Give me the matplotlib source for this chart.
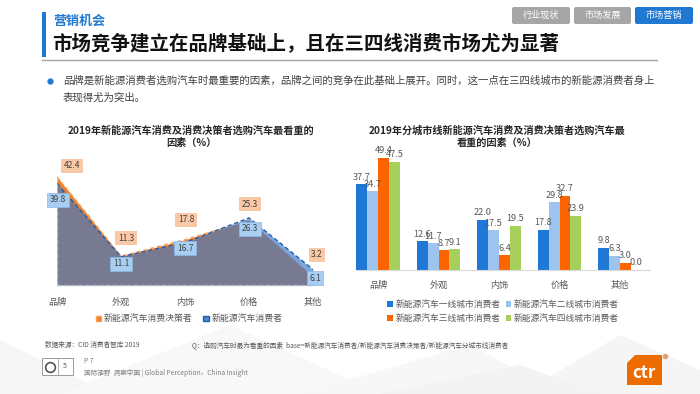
import matplotlib
matplotlib.use("Agg")
import matplotlib.pyplot as plt
from matplotlib.patches import Rectangle, FancyBboxPatch, Polygon, Patch
import numpy as np

plt.rcParams['font.family'] = ['Noto Sans CJK SC', 'DejaVu Sans']

# ---- data ----
factors = ["品牌", "外观", "内饰", "价格", "其他"]

decision_makers = [42.4, 11.3, 17.8, 25.3, 3.2]
consumers = [39.8, 11.1, 16.7, 26.3, 6.1]

tier1 = [37.7, 12.6, 22.0, 17.8, 9.8]
tier2 = [34.7, 11.7, 17.5, 29.8, 6.3]
tier3 = [49.4, 8.7, 6.4, 32.7, 3.0]
tier4 = [47.5, 9.1, 19.5, 23.9, 0.0]

tier_names = ["新能源汽车一线城市消费者", "新能源汽车二线城市消费者",
              "新能源汽车三线城市消费者", "新能源汽车四线城市消费者"]
tier_colors = ["#1f77d6", "#9dc3ef", "#fb6400", "#a6cf5b"]

W, H = 700, 394
fig = plt.figure(figsize=(7, 3.94), dpi=100)
fig.patch.set_facecolor("white")

# background layer in pixel coords (header, footer, decoration)
bg = fig.add_axes([0, 0, 1, 1])
bg.set_xlim(0, W)
bg.set_ylim(H, 0)
bg.axis("off")

# faint polygons at the bottom
for pts, c in [
    ([(0, 394), (0, 340), (110, 394)], "#f6f6f6"),
    ([(60, 394), (230, 325), (380, 394)], "#f8f8f8"),
    ([(300, 394), (470, 345), (560, 394)], "#f7f7f7"),
    ([(520, 394), (620, 335), (700, 370), (700, 394)], "#f5f5f5"),
    ([(380, 394), (520, 365), (600, 394)], "#f3f3f3"),
]:
    bg.add_patch(Polygon(pts, closed=True, fc=c, ec="none", zorder=0))

# header
bg.add_patch(Rectangle((42, 12), 4, 45, fc="#1f78d1", ec="none"))
bg.text(53, 21, "营销机会", fontsize=9.4, fontweight="bold", color="#1f78d1", va="center")
bg.text(52, 43, "市场竞争建立在品牌基础上，且在三四线消费市场尤为显著",
        fontsize=14, fontweight="bold", color="#111111", va="center")
bg.plot([42, 657], [59.5, 59.5], color="#a6a6a6", lw=1)

for (x0, x1), label, col in [((512, 570), "行业现状", "#a6a6a6"),
                             ((574, 631), "市场发展", "#a6a6a6"),
                             ((635, 693), "市场营销", "#1f78d1")]:
    bg.add_patch(FancyBboxPatch((x0, 7), x1 - x0, 17, boxstyle="round,pad=0,rounding_size=2",
                                fc=col, ec="none"))
    bg.text((x0 + x1) / 2, 15.5, label, fontsize=6.6, color="white", ha="center", va="center")

bg.plot([50], [81], "o", color="#1f78d1", ms=3.5)
bg.text(63, 81, "品牌是新能源消费者选购汽车时最重要的因素，品牌之间的竞争在此基础上展开。同时，这一点在三四线城市的新能源消费者身上",
        fontsize=7.5, color="#404040", va="center")
bg.text(63, 98, "表现得尤为突出。", fontsize=7.5, color="#404040", va="center")

# chart titles
bg.text(191, 137, "2019年新能源汽车消费及消费决策者选购汽车最看重的\n因素（%）",
        fontsize=7.3, fontweight="bold", color="#262626", ha="center", va="center",
        linespacing=1.25)
bg.text(497, 137, "2019年分城市线新能源汽车消费及消费决策者选购汽车最\n看重的因素（%）",
        fontsize=7.3, fontweight="bold", color="#262626", ha="center", va="center",
        linespacing=1.25)

# footer
bg.text(45, 345, "数据来源：CID 消费者智库 2019", fontsize=4.8, color="#595959", va="center")
bg.text(192, 345, "Q：选购汽车时最为看重的因素  base=新能源汽车消费者/新能源汽车消费决策者/新能源汽车分城市线消费者",
        fontsize=4.8, color="#595959", va="center")
bg.add_patch(Rectangle((42, 358), 31, 17, fc="white", ec="#8c8c8c", lw=0.6))
bg.plot([57.5, 57.5], [359, 374], color="#8c8c8c", lw=0.5)
bg.plot([50], [366.5], "o", mfc="none", mec="#555555", ms=7, mew=1.2)
bg.text(65, 366.5, "5", fontsize=5, color="#555555", ha="center", va="center")
bg.text(84, 361, "P 7", fontsize=4.8, color="#7f7f7f", va="center")
bg.text(84, 373, "国际视野  洞察中国 | Global Perception，China Insight", fontsize=4.8,
        color="#7f7f7f", va="center")
bg.add_patch(Polygon([(635, 355), (662, 355), (662, 385), (627, 385), (627, 363)],
                     closed=True, fc="#ec6c00", ec="none"))
bg.text(644, 373, "ctr", fontsize=12, color="white", ha="center", va="center", fontweight="bold")
bg.plot([665], [356], "o", color="#e0a070", ms=3)

# ---- left chart: area ----
x = np.arange(len(factors))
ax1 = fig.add_axes([57 / W, 1 - 285 / H, 256 / W, 114.75 / H])
ax1.fill_between(x, decision_makers, color="#ef7f2d", lw=0, zorder=2)
ax1.plot(x, decision_makers, color="#f5a05a", lw=1, ls=(0, (3, 2)), zorder=3)
ax1.fill_between(x, consumers, color="#3a78c8", alpha=0.66, lw=0, zorder=4)
ax1.plot(x, consumers, color="#1f5fae", lw=1, ls=(0, (3, 2)), zorder=5)
ax1.plot([0, 4], [0, 0], color="#a9bfd8", lw=1, ls=(0, (3, 2)), zorder=5, clip_on=False)
ax1.plot([0, 0], [0, consumers[0]], color="#a9bfd8", lw=1, ls=(0, (3, 2)), zorder=5)
ax1.set_xlim(0, 4)
ax1.set_ylim(0, 45)
ax1.set_xticks(x)
ax1.set_xticklabels(factors, fontsize=6.6, color="#595959")
ax1.tick_params(length=0, pad=9)
ax1.set_yticks([])
for s in ax1.spines.values():
    s.set_visible(False)
ax1.patch.set_alpha(0)

orange_off = [(15, 11), (5, 18), (1, 20), (1, 16), (4, 22)]
blue_off = [(1, -16), (0, -7), (0, -6), (1, -11), (2, -9)]
for i in range(len(factors)):
    ax1.annotate(f"{decision_makers[i]:.1f}", (x[i], decision_makers[i]),
                 xytext=orange_off[i], textcoords="offset pixels", ha="center", va="center",
                 fontsize=6, color="#404040", zorder=6, annotation_clip=False,
                 bbox=dict(boxstyle="square,pad=0.3", fc="#f9c8a6", ec="none"))
    ax1.annotate(f"{consumers[i]:.1f}", (x[i], consumers[i]),
                 xytext=blue_off[i], textcoords="offset pixels", ha="center", va="center",
                 fontsize=6, color="#404040", zorder=6, annotation_clip=False,
                 bbox=dict(boxstyle="square,pad=0.3", fc="#a8cef2", ec="#8ab8e8", lw=0.5))

fig.legend(handles=[Patch(fc="#ef7f2d", ec="#f5a05a"), Patch(fc="#4d86cf", ec="#1f5fae")],
           labels=["新能源汽车消费决策者", "新能源汽车消费者"],
           loc="center", bbox_to_anchor=(189 / W, 1 - 319 / H), ncol=2, frameon=False,
           fontsize=6.4, labelcolor="#595959", handlelength=0.6, handleheight=0.6,
           handletextpad=0.3, columnspacing=1.2)

# ---- right chart: grouped bars ----
ax2 = fig.add_axes([(378 - 0.36 * 60.5) / W, 1 - 270 / H, 4.86 * 60.5 / W, 55 * 2.27 / H])
bw = 0.18
series = [tier1, tier2, tier3, tier4]
for k, vals in enumerate(series):
    xs = x + (k - 1.5) * bw
    ax2.bar(xs, vals, width=bw, color=tier_colors[k], label=tier_names[k], zorder=2)
    for xi, v in zip(xs, vals):
        ax2.text(xi, v + 1.2, f"{v:.1f}", ha="center", va="bottom", fontsize=6.6, color="#595959")
ax2.set_xlim(-0.36, 4.5)
ax2.set_ylim(0, 55)
ax2.set_xticks(x)
ax2.set_xticklabels(factors, fontsize=6.6, color="#595959")
ax2.tick_params(length=0, pad=8)
ax2.set_yticks([])
for name, s in ax2.spines.items():
    s.set_visible(name == "bottom")
ax2.spines["bottom"].set_color("#d9d9d9")
ax2.spines["bottom"].set_linewidth(0.8)
ax2.patch.set_alpha(0)

h = [Patch(fc=c) for c in tier_colors]
order = [0, 2, 1, 3]
fig.legend(handles=[h[i] for i in order], labels=[tier_names[i] for i in order],
           loc="center", bbox_to_anchor=(503 / W, 1 - 311.5 / H), ncol=2, frameon=False,
           fontsize=6.3, labelcolor="#595959", handlelength=0.6, handleheight=0.6,
           handletextpad=0.3, columnspacing=0.6, labelspacing=0.55)

fig.savefig("out.png", dpi=100)
